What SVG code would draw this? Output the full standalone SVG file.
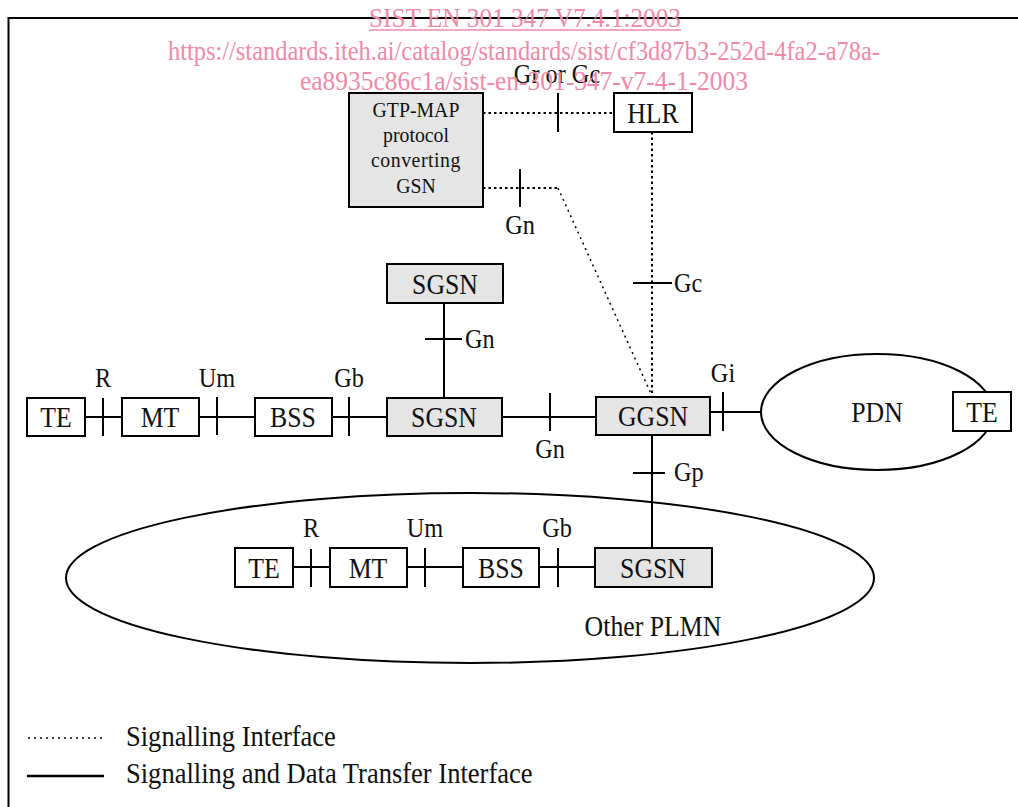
<svg xmlns="http://www.w3.org/2000/svg" width="1018" height="807" viewBox="0 0 1018 807">
<style>
.box{stroke:#000;stroke-width:2;fill:#fff}
.gray{fill:#e5e5e5}
.ln{stroke:#000;stroke-width:2;fill:none}
.dot{stroke:#000;stroke-width:2;stroke-dasharray:2.5 3;fill:none}
.dotf{stroke:#000;stroke-width:1.5;stroke-dasharray:2 4;fill:none}
.t{font-family:"Liberation Serif","Times New Roman",serif;font-size:30px;fill:#111;text-anchor:middle}
.lb{font-family:"Liberation Serif","Times New Roman",serif;font-size:27px;fill:#111;text-anchor:middle}
.ls{font-family:"Liberation Serif","Times New Roman",serif;font-size:27px;fill:#111}
.lg{font-family:"Liberation Serif","Times New Roman",serif;font-size:29px;fill:#111}
.sm{font-family:"Liberation Serif","Times New Roman",serif;font-size:22px;fill:#111;text-anchor:middle}
.wm{font-family:"Liberation Serif","Times New Roman",serif;font-size:28px;fill:#ee8aa8}
</style>
<rect width="1018" height="807" fill="#fff"/>
<path d="M8.5,807 V18 H1018" class="ln"/>

<g id="connectors">
  <line x1="483" y1="113" x2="614" y2="113" class="dot"/>
  <line x1="558" y1="93" x2="558" y2="132" class="ln"/>
  <line x1="483" y1="188" x2="558" y2="188" class="dot"/>
  <line x1="558" y1="188" x2="652" y2="396" class="dotf"/>
  <line x1="520" y1="169" x2="520" y2="207" class="ln"/>
  <line x1="652" y1="132" x2="652" y2="396" class="dot"/>
  <line x1="633" y1="283" x2="672" y2="283" class="ln"/>
  <line x1="444" y1="303" x2="444" y2="398" class="ln"/>
  <line x1="425" y1="339" x2="462" y2="339" class="ln"/>
  <line x1="85" y1="417" x2="122" y2="417" class="ln"/>
  <line x1="103" y1="398" x2="103" y2="436" class="ln"/>
  <line x1="199" y1="417" x2="255" y2="417" class="ln"/>
  <line x1="217" y1="397" x2="217" y2="435" class="ln"/>
  <line x1="332" y1="417" x2="387" y2="417" class="ln"/>
  <line x1="349" y1="397" x2="349" y2="436" class="ln"/>
  <line x1="502" y1="417" x2="596" y2="417" class="ln"/>
  <line x1="550" y1="393" x2="550" y2="431" class="ln"/>
  <line x1="710" y1="412" x2="762" y2="412" class="ln"/>
  <line x1="723" y1="392" x2="723" y2="431" class="ln"/>
  <line x1="652" y1="435" x2="652" y2="548" class="ln"/>
  <line x1="633" y1="473" x2="665" y2="473" class="ln"/>
  <line x1="293" y1="567" x2="330" y2="567" class="ln"/>
  <line x1="311" y1="549" x2="311" y2="587" class="ln"/>
  <line x1="407" y1="567" x2="463" y2="567" class="ln"/>
  <line x1="425" y1="548" x2="425" y2="587" class="ln"/>
  <line x1="539" y1="567" x2="595" y2="567" class="ln"/>
  <line x1="558" y1="548" x2="558" y2="587" class="ln"/>
</g>

<g id="labels">
  <text class="lb" transform="translate(557,83) scale(0.9,1)">Gr or Gc</text>
  <text class="lb" transform="translate(520,234) scale(0.9,1)">Gn</text>
  <text class="ls" transform="translate(674,292) scale(0.9,1)">Gc</text>
  <text class="ls" transform="translate(465,348) scale(0.9,1)">Gn</text>
  <text class="lb" transform="translate(103,387) scale(0.9,1)">R</text>
  <text class="lb" transform="translate(217,387) scale(0.9,1)">Um</text>
  <text class="lb" transform="translate(349,387) scale(0.9,1)">Gb</text>
  <text class="lb" transform="translate(550,458) scale(0.9,1)">Gn</text>
  <text class="lb" transform="translate(723,382) scale(0.9,1)">Gi</text>
  <text class="ls" transform="translate(674,481) scale(0.9,1)">Gp</text>
  <text class="lb" transform="translate(311,537) scale(0.9,1)">R</text>
  <text class="lb" transform="translate(425,537) scale(0.9,1)">Um</text>
  <text class="lb" transform="translate(557,537) scale(0.9,1)">Gb</text>
</g>

<g id="plmn">
  <ellipse cx="470" cy="578" rx="404" ry="85" class="ln"/>
  <text class="t" transform="translate(653,636) scale(0.86,1)">Other PLMN</text>
</g>
<g id="pdn">
  <ellipse cx="877" cy="412" rx="116" ry="58" class="ln"/>
  <text class="t" transform="translate(877,422) scale(0.86,1)">PDN</text>
</g>

<g id="gtpmap"><rect x="349" y="93" width="134" height="114" class="box gray"/>
  <text class="sm" transform="translate(416,117) scale(0.9,1)">GTP-MAP</text>
  <text class="sm" transform="translate(416,142) scale(0.9,1)">protocol</text>
  <text class="sm" transform="translate(416,167) scale(0.9,1)" letter-spacing="0.6">converting</text>
  <text class="sm" transform="translate(416,193) scale(0.9,1)">GSN</text>
</g>
<g id="hlr"><rect x="614" y="93" width="78" height="39" class="box"/><text class="t" transform="translate(653,123) scale(0.86,1)">HLR</text></g>
<g id="sgsn-top"><rect x="387" y="264" width="116" height="39" class="box gray"/><text class="t" transform="translate(445,294) scale(0.86,1)">SGSN</text></g>
<g id="te1"><rect x="27" y="398" width="58" height="38" class="box"/><text class="t" transform="translate(56,427) scale(0.86,1)">TE</text></g>
<g id="mt1"><rect x="122" y="398" width="77" height="38" class="box"/><text class="t" transform="translate(160,427) scale(0.86,1)">MT</text></g>
<g id="bss1"><rect x="255" y="398" width="77" height="38" class="box"/><text class="t" transform="translate(293,427) scale(0.86,1)">BSS</text></g>
<g id="sgsn1"><rect x="387" y="398" width="115" height="38" class="box gray"/><text class="t" transform="translate(444,427) scale(0.86,1)">SGSN</text></g>
<g id="ggsn"><rect x="596" y="397" width="114" height="38" class="box gray"/><text class="t" transform="translate(653,426) scale(0.86,1)">GGSN</text></g>
<g id="te-pdn"><rect x="953" y="392" width="58" height="39" class="box"/><text class="t" transform="translate(982,422) scale(0.86,1)">TE</text></g>
<g id="te2"><rect x="235" y="548" width="58" height="39" class="box"/><text class="t" transform="translate(264,578) scale(0.86,1)">TE</text></g>
<g id="mt2"><rect x="330" y="548" width="77" height="39" class="box"/><text class="t" transform="translate(368,578) scale(0.86,1)">MT</text></g>
<g id="bss2"><rect x="463" y="548" width="76" height="39" class="box"/><text class="t" transform="translate(501,578) scale(0.86,1)">BSS</text></g>
<g id="sgsn2"><rect x="595" y="548" width="117" height="39" class="box gray"/><text class="t" transform="translate(653,578) scale(0.86,1)">SGSN</text></g>

<g id="legend">
  <line x1="28" y1="738" x2="102" y2="738" class="dotf"/>
  <line x1="27" y1="776" x2="104" y2="776" stroke="#000" stroke-width="2.5"/>
  <text class="lg" transform="translate(126,746) scale(0.915,1)">Signalling Interface</text>
  <text class="lg" transform="translate(126,783) scale(0.915,1)">Signalling and Data Transfer Interface</text>
</g>

<g id="watermark">
  <text x="525" y="27" class="wm" text-anchor="middle" textLength="312" lengthAdjust="spacingAndGlyphs">SIST EN 301 347 V7.4.1:2003</text>
  <line x1="369" y1="30" x2="681" y2="30" stroke="#ee8aa8" stroke-width="1.5"/>
  <text x="168" y="60" class="wm" textLength="712" lengthAdjust="spacingAndGlyphs">https://standards.iteh.ai/catalog/standards/sist/cf3d87b3-252d-4fa2-a78a-</text>
  <text x="300" y="90" class="wm" textLength="448" lengthAdjust="spacingAndGlyphs">ea8935c86c1a/sist-en-301-347-v7-4-1-2003</text>
</g>
</svg>
